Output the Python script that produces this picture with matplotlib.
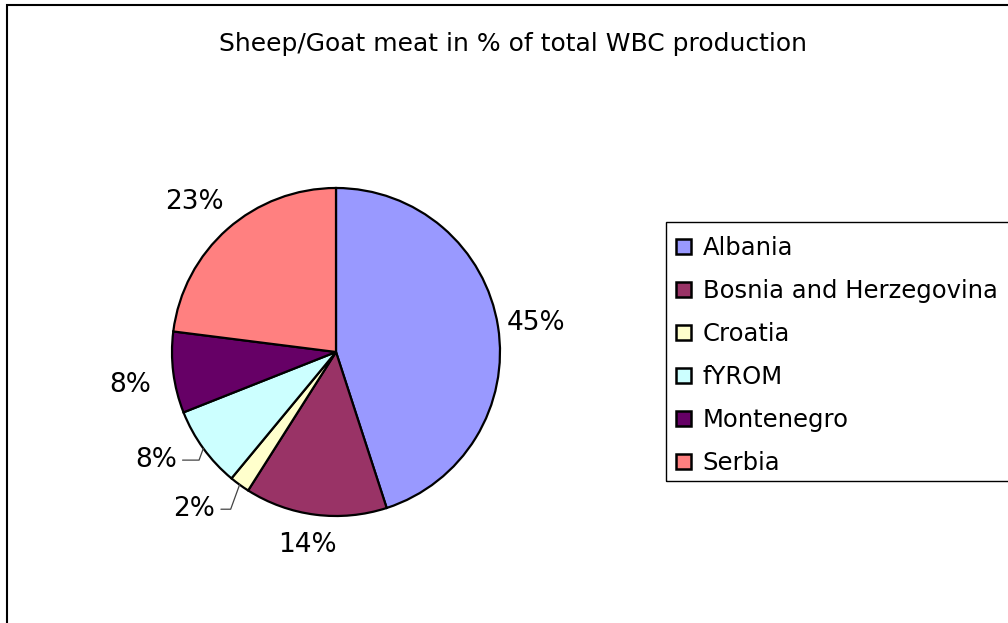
import math
import matplotlib
matplotlib.use("Agg")
from matplotlib import pyplot as plt
from matplotlib.patches import Rectangle

# Share of sheep/goat meat production by country (%)
countries = ["Albania", "Bosnia and Herzegovina", "Croatia", "fYROM", "Montenegro", "Serbia"]
shares = [45, 14, 2, 8, 8, 23]
colours = ["#9999FF", "#993366", "#FFFFCC", "#CCFFFF", "#660066", "#FF8080"]

# label distance from the centre (pie radii) and angular nudge (degrees)
label_dist = [1.23, 1.19, 1.29, 1.28, 1.27, 1.26]
label_turn = [-0.7, -1.3, -6.0, -5.0, 2.0, 2.0]
# small slices get a leader line to their label
has_leader = [False, False, True, True, False, False]

W, H = 1008, 623
fig = plt.figure(figsize=(W / 100, H / 100), dpi=100)
fig.patch.set_facecolor("white")
font = "DejaVu Sans"

# chart area border, right and bottom edges run off the image
fig.add_artist(Rectangle((7 / W, -0.1), 1.2, 1 - 5 / H + 0.1,
                         transform=fig.transFigure, fill=False,
                         edgecolor="black", linewidth=1.5))

fig.text(513 / W, 1 - 44 / H, "Sheep/Goat meat in % of total WBC production",
         ha="center", va="center", fontsize=18, family=font)

# pie placed in a square axes (centre 336,352 px, radius 164 px)
R = 164
cx, cy = 336, H - 352
ax = fig.add_axes([(cx - R) / W, (cy - R) / H, 2 * R / W, 2 * R / H])
wedges, _ = ax.pie(shares, colors=colours, startangle=90, counterclock=False,
                   radius=1, wedgeprops=dict(edgecolor="black", linewidth=1.6))
ax.set_xlim(-1, 1)
ax.set_ylim(-1, 1)
ax.axis("off")

for w, val, d, turn, lead in zip(wedges, shares, label_dist, label_turn, has_leader):
    mid = math.radians((w.theta1 + w.theta2) / 2)
    at = mid + math.radians(turn)
    tx, ty = d * math.cos(at), d * math.sin(at)
    txt = "{0}%".format(val)
    if lead:
        ex, ey = math.cos(mid), math.sin(mid)
        ax.annotate(txt, xy=(ex, ey), xytext=(tx, ty), ha="center", va="center",
                    fontsize=19, family=font, annotation_clip=False,
                    arrowprops=dict(arrowstyle="-", color="#444444", lw=0.9,
                                    shrinkA=2, shrinkB=0,
                                    connectionstyle="angle,angleA=0,angleB=70"))
    else:
        ax.text(tx, ty, txt, ha="center", va="center", fontsize=19, family=font)

# legend box, its right edge runs off the image
fig.add_artist(Rectangle((666 / W, 1 - 481 / H), 0.5, (481 - 222) / H,
                         transform=fig.transFigure, fill=False,
                         edgecolor="black", linewidth=1.0))
leg = fig.legend(wedges, countries, loc="upper left",
                 bbox_to_anchor=(676 / W, 1 - 236 / H), frameon=False,
                 prop=dict(family=font, size=17.5), handlelength=0.6,
                 handleheight=0.6, handletextpad=0.5, labelspacing=0.78,
                 borderaxespad=0, borderpad=0)
for h in leg.legend_handles:
    h.set_linewidth(1.8)

fig.savefig("out.png", dpi=100, facecolor="white")
